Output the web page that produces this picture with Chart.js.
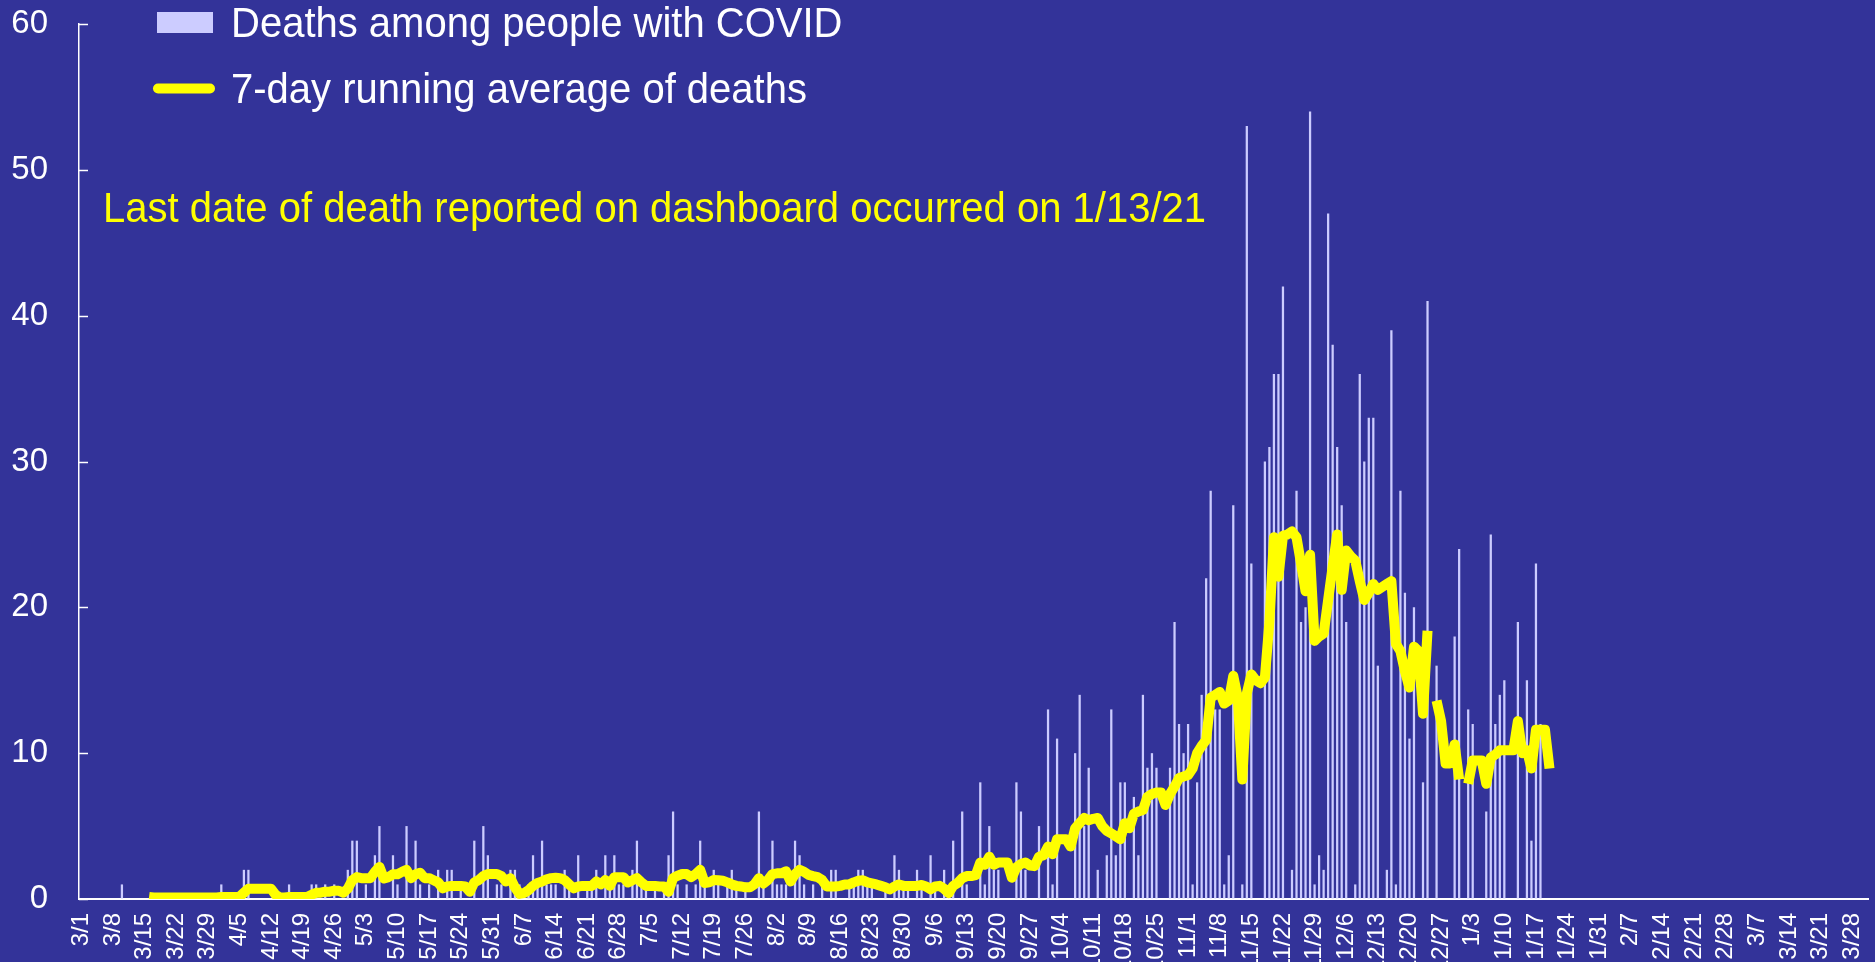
<!DOCTYPE html>
<html><head><meta charset="utf-8">
<script src="https://cdn.jsdelivr.net/npm/chart.js@4.4.1/dist/chart.umd.min.js"></script>
<style>
html,body{margin:0;padding:0;background:#333399;overflow:hidden;}
#wrap{width:1875px;height:962px;overflow:hidden;position:relative;background:#333399;}
canvas{display:block;}
</style></head><body>
<div id="wrap"><canvas id="c" width="1875" height="1000"></canvas></div>
<script>
// ---- data ----
const startYear = 2020, startMonth = 2, startDay = 1;   // 3/1/2020
const dayCount = 396;                                   // through 3/31/2021
const labelEvery = 7;

// daily deaths, index 0 = 3/1/2020
const deaths = [
 0,0,0,0,0,0,0,0,0,1,
 0,0,0,0,0,0,0,0,0,0,
 0,0,0,0,0,0,0,0,0,0,
 0,1,0,0,0,0,2,2,0,0,
 0,0,0,0,0,0,1,0,0,0,
 0,1,1,0,1,0,1,0,0,2,
 4,4,0,1,0,3,5,0,0,3,
 1,0,5,0,4,1,0,1,0,2,
 0,2,2,0,1,0,0,4,0,5,
 3,0,1,1,0,2,2,1,0,1,
 3,1,4,1,1,1,0,2,1,0,
 3,0,1,1,2,0,3,1,3,1,
 1,0,2,4,1,1,0,1,0,1,
 3,6,1,0,1,0,1,4,1,0,
 2,1,0,1,2,1,0,1,0,0,
 6,1,0,4,1,1,1,0,4,3,
 1,0,1,0,1,0,2,2,0,0,
 1,1,2,2,1,1,0,0,1,0,
 3,2,1,1,0,2,1,0,3,1,
 0,2,0,4,0,6,1,0,0,8,
 1,5,2,2,0,0,0,8,6,2,
 0,0,5,0,13,1,11,0,0,0,
 10,14,5,9,0,2,0,3,13,3,
 8,8,0,7,3,14,9,10,9,0,
 0,9,19,12,10,12,1,8,14,22,
 28,13,13,1,3,27,0,1,53,23,
 0,0,30,31,36,36,42,0,2,28,
 19,20,54,1,3,2,47,38,31,27,
 19,0,1,36,30,33,33,16,0,2,
 39,1,28,21,11,20,0,8,41,0,
 16,0,0,0,18,24,0,13,12,0,
 0,6,25,12,14,15,0,0,19,0,
 15,4,23,12
];

// 7-day running average, same indexing (null = no value)
const avg7 = [
 null,null,null,null,null,null,null,null,null,null,
 null,null,null,null,null,0.14,0.1,0.1,0.1,0.1,
 0.1,0.1,0.1,0.1,0.1,0.1,0.1,0.1,0.1,0.1,
 0.1,0.14,0.14,0.14,0.14,0.14,0.43,0.71,0.71,0.71,
 0.71,0.71,0.71,0.29,0.1,0.1,0.14,0.14,0.14,0.14,
 0.14,0.29,0.43,0.43,0.5,0.5,0.57,0.57,0.43,0.71,
 1.29,1.5,1.43,1.43,1.43,1.86,2.2,1.4,1.5,1.7,
 1.7,1.86,2.0,1.43,1.7,1.8,1.43,1.43,1.29,1.14,
 0.73,0.86,0.9,0.9,0.9,0.86,0.5,1.14,1.3,1.57,
 1.71,1.71,1.71,1.57,1.2,1.43,0.8,0.35,0.4,0.6,
 0.9,1.1,1.2,1.35,1.43,1.46,1.43,1.3,1.0,0.73,
 0.86,0.9,0.9,0.9,1.2,1.0,1.3,0.9,1.5,1.5,
 1.5,1.14,1.29,1.43,1.14,0.9,0.9,0.9,0.86,0.86,
 0.5,1.43,1.6,1.71,1.71,1.5,1.71,2.0,1.1,1.14,
 1.3,1.29,1.25,1.14,1.0,0.9,0.86,0.8,0.8,1.0,
 1.43,1.07,1.3,1.71,1.76,1.76,1.9,1.2,1.71,2.0,
 1.86,1.65,1.57,1.5,1.3,0.86,0.86,0.86,0.9,1.0,
 1.0,1.14,1.25,1.29,1.14,1.07,1.0,0.9,0.8,0.66,
 0.86,1.0,0.9,0.9,0.9,0.9,0.96,0.86,0.66,0.86,
 0.9,0.7,0.4,0.9,1.1,1.43,1.57,1.57,1.64,2.5,
 2.35,2.9,2.35,2.5,2.5,2.5,1.46,2.17,2.4,2.5,
 2.3,2.25,2.9,3.0,3.6,3.07,4.1,4.1,4.1,3.6,
 4.85,5.2,5.56,5.4,5.5,5.56,5.0,4.67,4.5,4.3,
 4.1,5.2,4.85,5.85,6.0,6.1,7.0,7.2,7.3,7.3,
 6.45,7.2,7.7,8.3,8.4,8.5,8.95,10.0,10.5,10.9,
 13.8,14.0,14.2,13.4,13.6,15.3,13.8,8.2,14.1,15.4,
 15.0,14.8,15.2,19.0,24.8,22.1,24.9,25.0,25.2,24.8,
 23.0,21.1,23.6,17.7,18.0,18.2,20.5,22.8,25.0,21.2,
 23.9,23.5,23.2,21.8,20.5,21.0,21.6,21.2,21.4,21.6,
 21.8,17.5,17.0,15.6,14.5,17.3,17.0,12.7,18.4,null,
 13.6,12.2,9.3,9.3,10.6,8.2,null,7.9,9.5,9.5,
 9.5,7.9,9.7,9.9,10.2,10.2,10.2,10.2,12.2,10.0,
 10.2,8.95,11.6,11.6,11.6,8.95
];

const yTicks = [0, 10, 20, 30, 40, 50, 60];
const seriesNames = ['Deaths among people with COVID', '7-day running average of deaths'];
const noteText = 'Last date of death reported on dashboard occurred on 1/13/21';

// ---- categories (one per day) ----
const categories = [];
for (let i = 0; i < dayCount; i++) {
  const d = new Date(startYear, startMonth, startDay + i);
  categories.push((d.getMonth() + 1) + '/' + d.getDate());
}

const FONT = '"Liberation Sans", Arial, Helvetica, sans-serif';
const BAR = '#CCCCFF', LINE = '#FFFF00';

const overlay = {
  id: 'overlay',
  afterDraw(chart) {
    const ctx = chart.ctx, ys = chart.scales.y, a = chart.chartArea;
    ctx.save();
    // inside tick marks on value axis
    ctx.strokeStyle = '#FFFFFF'; ctx.lineWidth = 1.5;
    yTicks.forEach(v => {
      const py = Math.round(ys.getPixelForValue(v)) + 0.5;
      ctx.beginPath(); ctx.moveTo(a.left, py); ctx.lineTo(a.left + 9, py); ctx.stroke();
    });
    // legend
    ctx.fillStyle = BAR; ctx.fillRect(157, 12, 56, 21);
    ctx.strokeStyle = LINE; ctx.lineWidth = 10; ctx.lineCap = 'round';
    ctx.beginPath(); ctx.moveTo(158, 88.5); ctx.lineTo(210, 88.5); ctx.stroke();
    ctx.font = '40px ' + FONT; ctx.textBaseline = 'alphabetic'; ctx.textAlign = 'left';
    const txt = (s, x, y, col) => {
      ctx.save(); ctx.translate(x, y); ctx.scale(1, 1.08); ctx.fillStyle = col; ctx.fillText(s, 0, 0); ctx.restore();
    };
    txt(seriesNames[0], 231, 37, '#FFFFFF');
    txt(seriesNames[1], 231, 103, '#FFFFFF');
    txt(noteText, 103, 222, LINE);
    ctx.restore();
  }
};

new Chart(document.getElementById('c'), {
  data: {
    labels: categories,
    datasets: [
      { type: 'line', label: seriesNames[1], data: avg7, borderColor: LINE, borderWidth: 10,
        pointRadius: 0, tension: 0, spanGaps: false, borderJoinStyle: 'round', borderCapStyle: 'butt', order: 0 },
      { type: 'bar', label: seriesNames[0], data: deaths, backgroundColor: BAR, borderWidth: 0,
        barPercentage: 0.5, categoryPercentage: 1.0, order: 1 }
    ]
  },
  options: {
    responsive: false, animation: false, devicePixelRatio: 1,
    layout: { padding: { top: 24, right: 7, left: 0, bottom: 0 } },
    plugins: { legend: { display: false }, tooltip: { enabled: false } },
    scales: {
      x: {
        type: 'category', offset: true,
        grid: { display: true, drawOnChartArea: false, drawTicks: false },
        border: { display: true, color: '#FFFFFF', width: 2 },
        ticks: {
          autoSkip: false, maxRotation: 90, minRotation: 90, padding: 14, color: '#FFFFFF',
          font: { family: FONT, size: 24 },
          callback: (v, i) => (i % labelEvery === 0 ? categories[i] : '')
        },
        afterFit(s) { s.height = 1000 - 899; s.paddingLeft = 0; s.paddingRight = 0; }
      },
      y: {
        min: 0, max: 60,
        grid: { display: true, drawOnChartArea: false, drawTicks: false },
        border: { display: true, color: '#FFFFFF', width: 1.5 },
        ticks: { stepSize: 10, color: '#FFFFFF', padding: 31, font: { family: FONT, size: 33 } },
        afterFit(s) { s.width = 79; s.paddingTop = 0; s.paddingBottom = 0; }
      }
    }
  },
  plugins: [overlay]
});
</script>
</body></html>
